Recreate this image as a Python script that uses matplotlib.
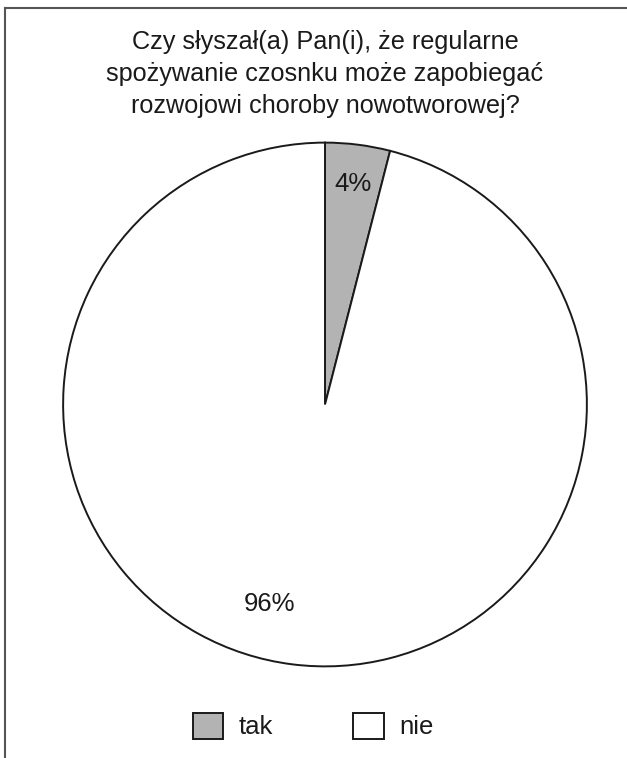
import matplotlib
matplotlib.use("Agg")
import matplotlib.pyplot as plt
from matplotlib.lines import Line2D
import numpy as np

plt.rcParams['font.family'] = ['Liberation Sans', 'DejaVu Sans']

title = "Czy słyszał(a) Pan(i), że regularne\nspożywanie czosnku może zapobiegać\nrozwojowi choroby nowotworowej?"
categories = ["tak", "nie"]
values = [4, 96]
colors = ["#b3b3b3", "#ffffff"]

W, H = 627, 758
fig = plt.figure(figsize=(W / 100, H / 100), dpi=100)

# frame lines (top and left)
fig.add_artist(Line2D([5 / W, 5 / W], [0, 1 - 8 / H], color="#555555", lw=1.5))
fig.add_artist(Line2D([5 / W, 1], [1 - 8 / H, 1 - 8 / H], color="#555555", lw=1.5))

fig.text(325 / W, 1 - 74 / H, title, ha="center", va="center", fontsize=18.2,
         linespacing=1.43, color="#1a1a1a")

cx, cy, r = 325, 404.5, 264.5
ax = fig.add_axes([(cx - r) / W, (H - cy - r) / H, 2 * r / W, 2 * r / H])
wedges, texts, autotexts = ax.pie(values, colors=colors, startangle=90, counterclock=False,
                                  autopct="%d%%", pctdistance=0.85,
                                  wedgeprops=dict(edgecolor="#1a1a1a", linewidth=1.4),
                                  textprops=dict(fontsize=18.5, color="#1a1a1a"))
ang = np.deg2rad(-105.7)
autotexts[1].set_position((0.79 * np.cos(ang), 0.79 * np.sin(ang)))
ax.set_xlim(-1.01, 1.01)
ax.set_ylim(-1.01, 1.01)
ax.set_aspect("equal")
ax.axis("off")

leg = fig.legend(wedges, categories, loc="center", bbox_to_anchor=(313 / W, 1 - 726 / H),
                 ncol=2, frameon=False, fontsize=18.5, handlelength=1.2, handleheight=1.2,
                 handletextpad=0.6, columnspacing=3.1)
for t in leg.get_texts():
    t.set_color("#1a1a1a")

fig.savefig("out.png", dpi=100)
